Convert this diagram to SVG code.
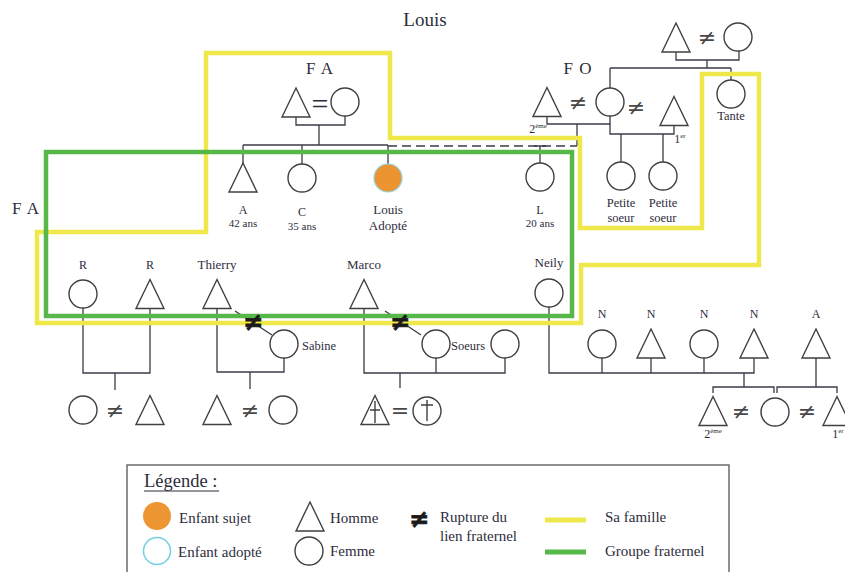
<svg xmlns="http://www.w3.org/2000/svg" xmlns:xlink="http://www.w3.org/1999/xlink" width="845" height="572" viewBox="0 0 845 572">
<style>
.t{font-family:"Liberation Serif",serif;fill:#2d2d3c;text-anchor:middle}
.ts{font-family:"Liberation Serif",serif;fill:#2d2d3c}
.s{fill:none;stroke:#404040;stroke-width:1.4}
.l{fill:none;stroke:#3b3b48;stroke-width:1.3}
.ne{font-family:"DejaVu Serif",serif;font-size:22px;fill:#484848;text-anchor:middle}
.nb{font-family:"DejaVu Sans",sans-serif;font-weight:bold;font-size:24px;fill:#1a1a1a;stroke:#1a1a1a;stroke-width:0.8;text-anchor:middle}
.y{fill:none;stroke:#eee84a;stroke-width:4.5}
.g{fill:none;stroke:#57b84a;stroke-width:4.5}
</style>
<defs>
<path id="tri" d="M0,-14.5 L14,14.5 L-14,14.5 Z" fill="none" stroke="#404040" stroke-width="1.4"/>
</defs>
<rect width="845" height="572" fill="#fff"/>
<text class="t" x="425" y="26" font-size="19">Louis</text>
<text class="t" x="320" y="74" font-size="17" letter-spacing="1">F A</text>
<text class="t" x="578" y="74" font-size="17" letter-spacing="1">F O</text>
<text class="t" x="26" y="214" font-size="17" letter-spacing="1">F A</text>

<g id="connectors" class="l">
<path d="M296,117 V125 H345 V116 M319,125 V145 M243,145 H388 M243,145 V163 M302,145 V164 M388,145 V164"/>
<path d="M388,146 H577" stroke-dasharray="9,5"/>
<path d="M547,117 V124 H610 V116 M577,124 V146 M540,146 V163 M534,146 H546"/>
<path d="M610,124 V134 H674 V126 M621,134 V162 M663,134 V162"/>
<path d="M676,52 V60 H739 V51 M707,60 V68 M610,68 H731 M610,68 V88 M731,68 V80"/>
<path d="M83,308 V373 H150 V308 M115,373 V390"/>
<path d="M217,308 V372 H284 V358 M250,372 V389"/>
<path d="M364,308 V373 H505 V358 M436,358 V373 M400,373 V388"/>
<path d="M549,307 V373 H754 V358 M602,358 V373 M651,358 V373 M704,358 V373"/>
<path d="M744,373 V387 M713,393 V387 H774 V393 M777,393 V387 H837 V393 M816,358 V387"/>
<path d="M235,311 L272,335 M385,311 L421,335"/>
</g>

<g id="sa-famille"><path class="y" d="M206,53 H390 V138 H580 V228 H702 V74 H759 V265 H581 V323 H37 V232 H206 Z"/></g>
<g id="groupe-fraternel"><rect class="g" x="46" y="152" width="526" height="164"/></g>

<g id="fa-parents">
<use xlink:href="#tri" x="296" y="102.5"/>
<text class="ts" x="320" y="114" font-size="30" text-anchor="middle" fill="#484848">=</text>
<circle class="s" cx="345" cy="102" r="14"/>
</g>
<g id="fo-parents">
<use xlink:href="#tri" x="547" y="102"/>
<text class="t" x="538" y="133" font-size="12">2<tspan font-size="7" dy="-5">ème</tspan></text>
<text class="ne" x="578" y="110">≠</text>
<circle class="s" cx="610" cy="102" r="14"/>
<text class="ne" x="636" y="115">≠</text>
<use xlink:href="#tri" x="674" y="111"/>
<text class="t" x="680" y="143" font-size="12">1<tspan font-size="7" dy="-5">er</tspan></text>
</g>
<g id="grandparents">
<use xlink:href="#tri" x="676" y="37.5"/>
<text class="ne" x="707" y="45">≠</text>
<circle class="s" cx="738" cy="37" r="14"/>
</g>
<g id="tante">
<circle class="s" cx="731" cy="94" r="14"/>
<text class="t" x="731" y="120" font-size="12.5">Tante</text>
</g>
<g id="petite-soeur-1">
<circle class="s" cx="621" cy="176" r="14"/>
<text class="t" x="621" y="207" font-size="12.5">Petite</text>
<text class="t" x="621" y="222" font-size="12.5">soeur</text>
</g>
<g id="petite-soeur-2">
<circle class="s" cx="663" cy="176" r="14"/>
<text class="t" x="663" y="207" font-size="12.5">Petite</text>
<text class="t" x="663" y="222" font-size="12.5">soeur</text>
</g>

<g id="node-a">
<use xlink:href="#tri" x="243" y="177.5"/>
<text class="t" x="243" y="214" font-size="12">A</text>
<text class="t" x="243" y="227" font-size="11">42 ans</text>
</g>
<g id="node-c">
<circle class="s" cx="302" cy="178" r="14"/>
<text class="t" x="302" y="216" font-size="12">C</text>
<text class="t" x="302" y="230" font-size="11">35 ans</text>
</g>
<g id="node-louis">
<circle cx="388" cy="178" r="14" fill="#ec9431" stroke="#8fd5e2" stroke-width="1.2"/>
<text class="t" x="388" y="214" font-size="13">Louis</text>
<text class="t" x="388" y="230" font-size="13">Adopté</text>
</g>
<g id="node-l">
<circle class="s" cx="540" cy="177" r="14"/>
<text class="t" x="540" y="214" font-size="12">L</text>
<text class="t" x="540" y="227" font-size="11">20 ans</text>
</g>

<g id="node-r1">
<circle class="s" cx="83" cy="294" r="14"/>
<text class="t" x="83" y="269" font-size="12">R</text>
</g>
<g id="node-r2">
<use xlink:href="#tri" x="150" y="294"/>
<text class="t" x="150" y="269" font-size="12">R</text>
</g>
<g id="node-thierry">
<use xlink:href="#tri" x="217" y="294"/>
<text class="t" x="217" y="269" font-size="13">Thierry</text>
</g>
<g id="node-marco">
<use xlink:href="#tri" x="364" y="294"/>
<text class="t" x="364" y="269" font-size="13">Marco</text>
</g>
<g id="node-neily">
<circle class="s" cx="549" cy="293" r="14"/>
<text class="t" x="549" y="267" font-size="13">Neily</text>
</g>
<g id="node-sabine">
<circle class="s" cx="284" cy="344" r="14"/>
<text class="ts" x="302" y="350" font-size="12.5">Sabine</text>
</g>
<g id="node-soeurs">
<circle class="s" cx="436" cy="344" r="14"/>
<text class="ts" x="451" y="350" font-size="12.5">Soeurs</text>
<circle class="s" cx="505" cy="344" r="14"/>
</g>
<g id="rupture-1"><text class="nb" x="253" y="330">≠</text></g>
<g id="rupture-2"><text class="nb" x="400" y="330">≠</text></g>

<g id="node-n1"><circle class="s" cx="602" cy="344" r="14"/><text class="t" x="602" y="318" font-size="12">N</text></g>
<g id="node-n2"><use xlink:href="#tri" x="651" y="343.5"/><text class="t" x="651" y="318" font-size="12">N</text></g>
<g id="node-n3"><circle class="s" cx="704" cy="344" r="14"/><text class="t" x="704" y="318" font-size="12">N</text></g>
<g id="node-n4"><use xlink:href="#tri" x="754" y="343.5"/><text class="t" x="754" y="318" font-size="12">N</text></g>
<g id="node-a2"><use xlink:href="#tri" x="816" y="343.5"/><text class="t" x="816" y="318" font-size="12">A</text></g>

<g id="children-r">
<circle class="s" cx="83" cy="410" r="14"/>
<text class="ne" x="115" y="418">≠</text>
<use xlink:href="#tri" x="150" y="410"/>
</g>
<g id="children-thierry">
<use xlink:href="#tri" x="217" y="410"/>
<text class="ne" x="250" y="418">≠</text>
<circle class="s" cx="283" cy="410" r="14"/>
</g>
<g id="children-marco">
<use xlink:href="#tri" x="375" y="410"/>
<path class="s" d="M375,401 V423 M370,410 H380"/>
<text class="ne" x="400" y="418">=</text>
<circle class="s" cx="427" cy="411" r="14"/>
<path class="s" d="M427,400 V421 M421,405 H433"/>
</g>
<g id="children-neily">
<use xlink:href="#tri" x="713" y="411"/>
<text class="t" x="713" y="438" font-size="12">2<tspan font-size="7" dy="-5">ème</tspan></text>
<text class="ne" x="741" y="419">≠</text>
<circle class="s" cx="775" cy="412" r="14"/>
<text class="ne" x="807" y="419">≠</text>
<use xlink:href="#tri" x="837" y="411"/>
<text class="t" x="838" y="438" font-size="12">1<tspan font-size="7" dy="-5">er</tspan></text>
</g>

<g id="legend">
<rect x="127" y="465" width="602" height="130" fill="none" stroke="#6b6b6b" stroke-width="1.5"/>
<text class="ts" x="144" y="487" font-size="18.5">Légende :</text>
<line x1="144" y1="491" x2="219" y2="491" stroke="#2d2d3c" stroke-width="1"/>
<circle cx="157" cy="516" r="14" fill="#ed9433"/>
<text class="ts" x="179" y="523" font-size="15">Enfant sujet</text>
<circle cx="157" cy="551" r="13.5" fill="none" stroke="#6fd0e3" stroke-width="1.5"/>
<text class="ts" x="178" y="557" font-size="15">Enfant adopté</text>
<use xlink:href="#tri" x="310" y="516.5"/>
<text class="ts" x="330" y="523" font-size="15">Homme</text>
<circle class="s" cx="309" cy="551" r="14"/>
<text class="ts" x="330" y="556" font-size="15">Femme</text>
<text class="nb" x="419" y="527">≠</text>
<text class="ts" x="440" y="522" font-size="15">Rupture du</text>
<text class="ts" x="440" y="541" font-size="15">lien fraternel</text>
<line x1="545" y1="520" x2="586" y2="520" stroke="#eee84a" stroke-width="5"/>
<text class="ts" x="605" y="522" font-size="15">Sa famille</text>
<line x1="545" y1="552" x2="586" y2="552" stroke="#57b84a" stroke-width="5"/>
<text class="ts" x="605" y="556" font-size="15">Groupe fraternel</text>
</g>
</svg>
